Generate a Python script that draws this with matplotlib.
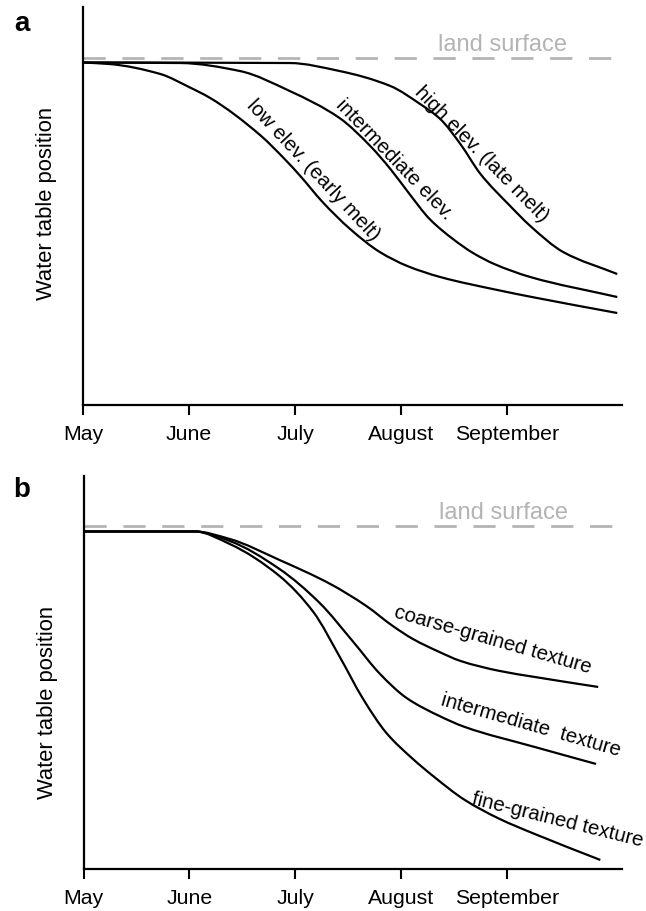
import matplotlib
matplotlib.use("Agg")
import matplotlib.pyplot as plt
import numpy as np
from matplotlib.path import Path
from matplotlib.patches import PathPatch

plt.rcParams['font.family'] = ['Liberation Sans', 'DejaVu Sans']
plt.rcParams['lines.scale_dashes'] = False

months = ["May", "June", "July", "August", "September"]
month_pos = [0, 1, 2, 3, 4]

# panel a: water table vs time for three elevations (x in months from May 1)
low_x = [0, 0.25, 0.73, 1.0, 1.2, 1.67, 1.92, 2.05, 2.26, 2.52, 2.8, 3.06, 3.37, 3.91, 4.26, 5.04]
low_y = [3.425, 3.41, 3.31, 3.18, 3.07, 2.70, 2.44, 2.29, 2.03, 1.76, 1.53, 1.39, 1.28, 1.15, 1.075, 0.92]

mid_x = [0, 0.92, 1.48, 1.95, 2.42, 2.71, 2.9, 3.08, 3.27, 3.49, 3.68, 3.88, 4.22, 5.04]
mid_y = [3.425, 3.42, 3.34, 3.14, 2.87, 2.59, 2.36, 2.11, 1.86, 1.66, 1.52, 1.41, 1.28, 1.08]

high_x = [0, 1.95, 2.42, 2.9, 3.18, 3.37, 3.56, 3.75, 4.03, 4.22, 4.53, 5.04]
high_y = [3.425, 3.42, 3.34, 3.19, 3.01, 2.86, 2.61, 2.31, 1.99, 1.79, 1.53, 1.31]

# panel b: three soil textures
coarse_x = [0, 1.05, 1.38, 1.85, 2.33, 2.67, 2.92, 3.11, 3.36, 3.56, 3.93, 4.26, 4.86]
coarse_y = [3.375, 3.375, 3.30, 3.09, 2.85, 2.63, 2.43, 2.30, 2.17, 2.08, 1.98, 1.92, 1.82]

inter_x = [0, 1.05, 1.38, 1.85, 2.23, 2.54, 2.8, 3.05, 3.36, 3.6, 4.26, 4.84]
inter_y = [3.375, 3.375, 3.28, 3.00, 2.66, 2.28, 1.95, 1.71, 1.53, 1.42, 1.22, 1.05]

fine_x = [0, 1.05, 1.38, 1.85, 2.17, 2.42, 2.64, 2.86, 3.11, 3.3, 3.6, 3.93, 4.26, 4.88]
fine_y = [3.375, 3.375, 3.25, 2.93, 2.57, 2.12, 1.70, 1.36, 1.10, 0.93, 0.69, 0.50, 0.35, 0.09]

land_a = 3.47
land_b = 3.43

fig = plt.figure(figsize=(6.46, 9.12), dpi=100)
ax_a = fig.add_axes([0.1285, 0.5548, 0.8344, 0.4364])
ax_b = fig.add_axes([0.1293, 0.0461, 0.8336, 0.4309])

gray = "#b4b4b4"
fs_tick = 15.3
fs_lab = 14.7


def smooth_line(ax, xs, ys, lw=1.6):
    # monotone (Fritsch-Carlson) tangents, drawn as cubic Bezier segments
    x = np.asarray(xs, float)
    y = np.asarray(ys, float)
    h = np.diff(x)
    d = np.diff(y) / h
    m = np.zeros_like(x)
    m[0], m[-1] = d[0], d[-1]
    for k in range(1, len(x) - 1):
        if d[k - 1] * d[k] > 0:
            w1 = 2 * h[k] + h[k - 1]
            w2 = h[k] + 2 * h[k - 1]
            m[k] = (w1 + w2) / (w1 / d[k - 1] + w2 / d[k])
    verts = [(x[0], y[0])]
    codes = [Path.MOVETO]
    for i in range(len(x) - 1):
        verts += [(x[i] + h[i] / 3, y[i] + m[i] * h[i] / 3),
                  (x[i + 1] - h[i] / 3, y[i + 1] - m[i + 1] * h[i] / 3),
                  (x[i + 1], y[i + 1])]
        codes += [Path.CURVE4] * 3
    patch = PathPatch(Path(verts, codes), fill=False, edgecolor="black",
                      lw=lw, clip_on=False, capstyle="butt")
    ax.add_patch(patch)


def style(ax, ytop, label_y):
    ax.set_xlim(0, 5.085)
    ax.set_ylim(0, ytop)
    for s in ["top", "right"]:
        ax.spines[s].set_visible(False)
    for s in ["left", "bottom"]:
        ax.spines[s].set_linewidth(1.6)
    ax.set_xticks(month_pos)
    ax.set_xticklabels(months, fontsize=fs_tick)
    ax.set_yticks([])
    ax.tick_params(axis="x", length=7.5, width=1.5, pad=6)
    ax.set_ylabel("Water table position", fontsize=15.8)
    ax.yaxis.set_label_coords(-0.048, label_y)


# --- panel a
style(ax_a, 3.98, 0.51)
ax_a.plot([0, 5.13], [land_a, land_a], color=gray, lw=2, dashes=(16, 12),
          clip_on=False)
ax_a.text(3.96, 3.55, "land surface", color=gray, fontsize=17, ha="center",
          va="baseline")
smooth_line(ax_a, low_x, low_y)
smooth_line(ax_a, mid_x, mid_y)
smooth_line(ax_a, high_x, high_y)
ax_a.text(2.17, 2.36, "low elev. (early melt)", rotation=-47, fontsize=fs_lab,
          ha="center", va="center", rotation_mode="anchor")
ax_a.text(2.94, 2.46, "intermediate elev.", rotation=-46, fontsize=fs_lab,
          ha="center", va="center", rotation_mode="anchor")
ax_a.text(3.76, 2.52, "high elev. (late melt)", rotation=-45.5, fontsize=fs_lab,
          ha="center", va="center", rotation_mode="anchor")

# --- panel b
style(ax_b, 3.93, 0.425)
ax_b.plot([0, 5.13], [land_b, land_b], color=gray, lw=2, dashes=(16, 12),
          clip_on=False)
ax_b.text(3.97, 3.51, "land surface", color=gray, fontsize=17, ha="center",
          va="baseline")
smooth_line(ax_b, coarse_x, coarse_y)
smooth_line(ax_b, inter_x, inter_y)
smooth_line(ax_b, fine_x, fine_y)
ax_b.text(3.86, 2.30, "coarse-grained texture", rotation=-16, fontsize=fs_lab,
          ha="center", va="center", rotation_mode="anchor")
ax_b.text(4.22, 1.45, "intermediate  texture", rotation=-16, fontsize=fs_lab,
          ha="center", va="center", rotation_mode="anchor")
ax_b.text(4.48, 0.50, "fine-grained texture", rotation=-14, fontsize=fs_lab,
          ha="center", va="center", rotation_mode="anchor")

fig.text(22 / 646, 1 - 24 / 912, "a", fontsize=20, fontweight="bold",
         ha="center", va="center")
fig.text(22 / 646, 1 - 490 / 912, "b", fontsize=20, fontweight="bold",
         ha="center", va="center")

fig.savefig("out.png", dpi=100)
